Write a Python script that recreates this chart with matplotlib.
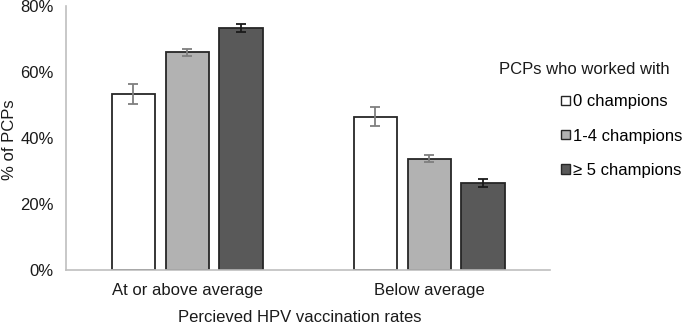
import matplotlib
matplotlib.use("Agg")
import matplotlib.pyplot as plt
import numpy as np

categories = ["At or above average", "Below average"]
series_names = ["0 champions", "1-4 champions", "\u2265 5 champions"]
legend_title = "PCPs who worked with"
vals_0 = [53.3, 46.4]
vals_14 = [66.0, 33.8]
vals_5 = [73.3, 26.4]
err_0 = [3.0, 2.9]
err_14 = [1.1, 1.0]
err_5 = [1.1, 1.1]
yticks = [0, 20, 40, 60, 80]

plt.rcParams['font.family'] = ['Liberation Sans', 'DejaVu Sans']

fig = plt.figure(figsize=(6.85, 3.25), dpi=100)
ax = fig.add_axes([0.0964, 0.169, 0.803 - 0.0964, 0.9815 - 0.169])

x = np.arange(len(categories))
w = 0.178
off = 0.223
fills = ["white", "#b2b2b2", "#595959"]
ecols = ["#7f7f7f", "#7f7f7f", "#1a1a1a"]
data = [vals_0, vals_14, vals_5]
errs = [err_0, err_14, err_5]
for i in range(3):
    ax.bar(x + (i - 1) * off, data[i], w, color=fills[i], edgecolor="#262626",
           linewidth=1.3, label=series_names[i], zorder=2)
    ax.errorbar(x + (i - 1) * off, data[i], yerr=errs[i], fmt="none",
                ecolor=ecols[i], elinewidth=1.3, capsize=3.5, capthick=1.3, zorder=3)

fs = 12
ax.set_xlim(-0.5, 1.5)
ax.set_ylim(0, 80)
ax.set_yticks(yticks)
ax.set_yticklabels([f"{t}%" for t in yticks], fontsize=fs, color="#1a1a1a")
ax.set_xticks(x)
ax.set_xticklabels(categories, fontsize=fs, color="#1a1a1a")
ax.tick_params(axis="both", length=0)
ax.tick_params(axis="y", pad=9)
ax.tick_params(axis="x", pad=9)
for s in ["top", "right"]:
    ax.spines[s].set_visible(False)
for s in ["left", "bottom"]:
    ax.spines[s].set_color("#bfbfbf")
    ax.spines[s].set_linewidth(1.2)

fig.text(10 / 685, 1 - 140 / 325, "% of PCPs", fontsize=fs, color="#1a1a1a",
         rotation=90, ha="center", va="center")
ax.set_xlabel("Percieved HPV vaccination rates", fontsize=fs, color="#1a1a1a")
ax.xaxis.set_label_coords((300 - 66) / 484, -47 / 264)
ax.xaxis.label.set_va("center")

leg = ax.legend(loc="upper left", bbox_to_anchor=(1.023, 0.665), frameon=False,
                fontsize=fs, handlelength=0.5, handleheight=0.5, handletextpad=0.2,
                labelspacing=1.15, borderaxespad=0, borderpad=0)
for h in leg.legend_handles:
    h.set_linewidth(1.0)

fig.text(499 / 685, 1 - 69 / 325, legend_title, fontsize=fs, color="#1a1a1a",
         ha="left", va="center")

fig.savefig("out.png", dpi=100)
